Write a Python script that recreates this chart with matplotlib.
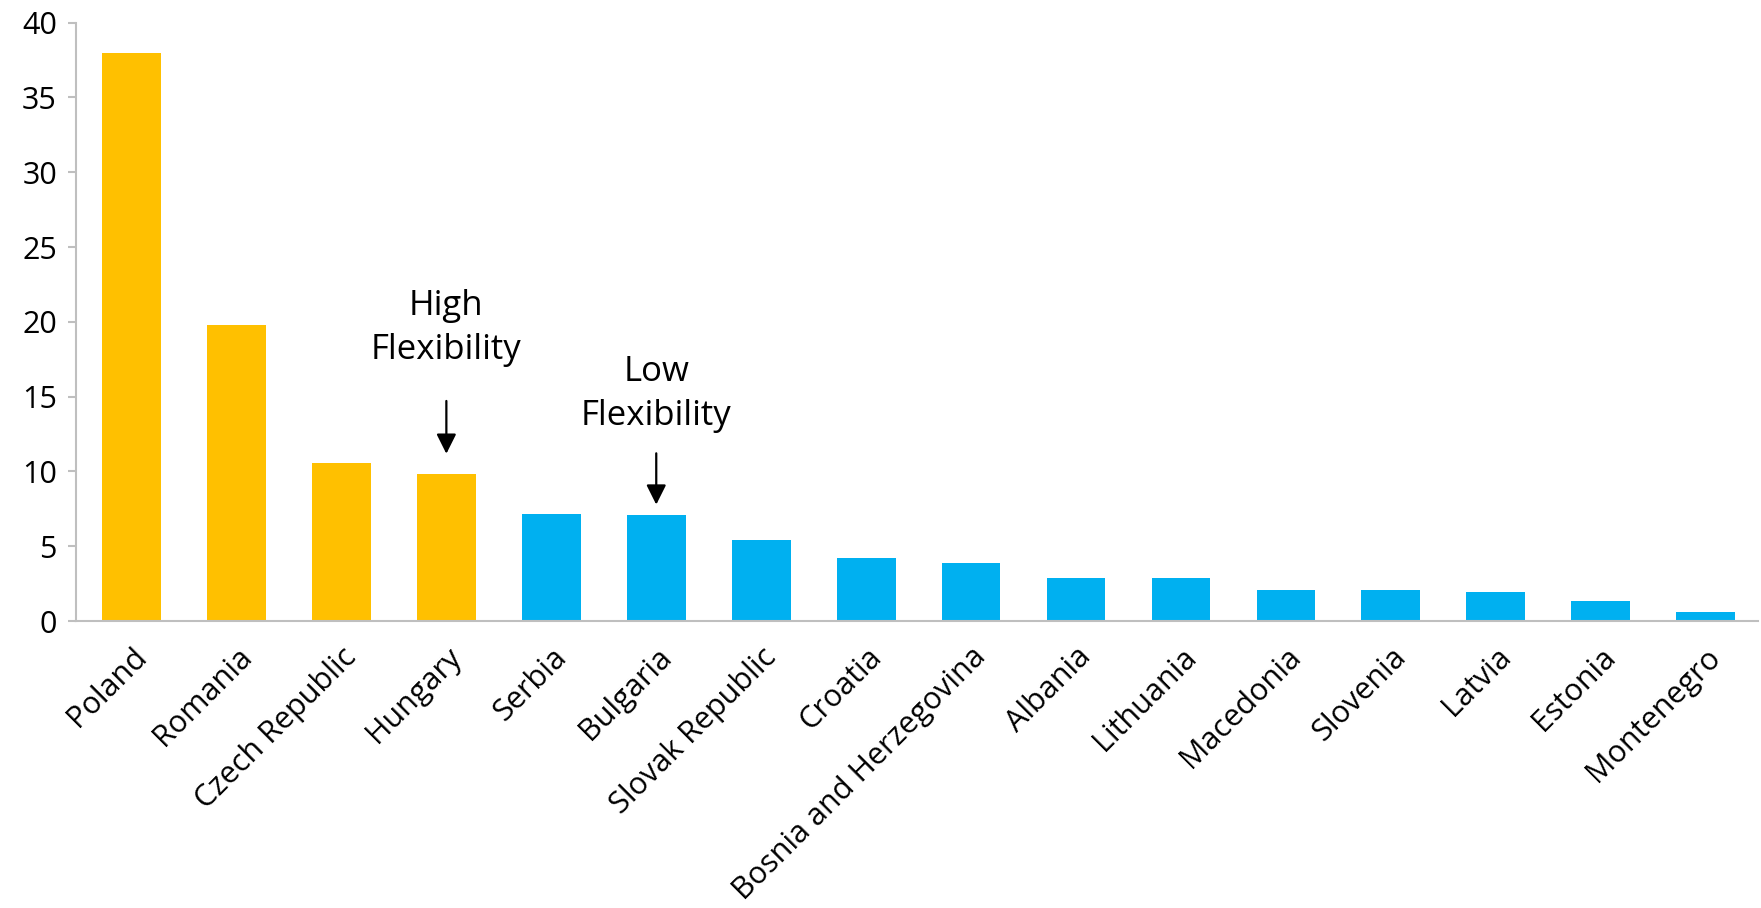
import matplotlib
matplotlib.use("Agg")
import matplotlib.pyplot as plt

plt.rcParams['font.family'] = ['Open Sans', 'DejaVu Sans']

countries = ["Poland", "Romania", "Czech Republic", "Hungary", "Serbia", "Bulgaria",
             "Slovak Republic", "Croatia", "Bosnia and Herzegovina", "Albania",
             "Lithuania", "Macedonia", "Slovenia", "Latvia", "Estonia", "Montenegro"]
values = [38.0, 19.8, 10.6, 9.85, 7.15, 7.1, 5.45, 4.2, 3.86, 2.9, 2.85, 2.07,
          2.05, 1.97, 1.32, 0.62]
flex_groups = ["high"] * 4 + ["low"] * 12
group_colors = {"high": "#FFC000", "low": "#00B0F0"}
yticks = [0, 5, 10, 15, 20, 25, 30, 35, 40]

fig = plt.figure(figsize=(17.61, 9.08), dpi=100)
ax = fig.add_axes([0.0434, 0.316, 0.955, 0.659])

x = list(range(len(countries)))
ax.bar(x, values, width=0.56, color=[group_colors[g] for g in flex_groups], zorder=2)

ax.set_xlim(-0.525, len(countries) - 0.5)
ax.set_ylim(0, 40)
ax.set_yticks(yticks)
ax.set_yticklabels([str(t) for t in yticks], fontsize=22)
ax.set_xticks(x)
ax.set_xticklabels(countries, rotation=45, ha='right', rotation_mode='anchor', fontsize=22)

for s in ['top', 'right']:
    ax.spines[s].set_visible(False)
for s in ['left', 'bottom']:
    ax.spines[s].set_color('#BFBFBF')
    ax.spines[s].set_linewidth(1.5)
ax.tick_params(axis='y', length=6, width=1.5, color='#BFBFBF', pad=8)
ax.tick_params(axis='x', length=0, pad=15)

# annotations
ax.annotate("", xy=(3, 11.0), xytext=(3, 14.9),
            arrowprops=dict(arrowstyle='-|>', color='black', lw=1.6, mutation_scale=30))
ax.text(3, 19.6, "High\nFlexibility", ha='center', va='center', fontsize=25, linespacing=1.38)
ax.annotate("", xy=(5, 7.6), xytext=(5, 11.4),
            arrowprops=dict(arrowstyle='-|>', color='black', lw=1.6, mutation_scale=30))
ax.text(5, 15.2, "Low\nFlexibility", ha='center', va='center', fontsize=25, linespacing=1.38)

fig.savefig("out.png", dpi=100)
